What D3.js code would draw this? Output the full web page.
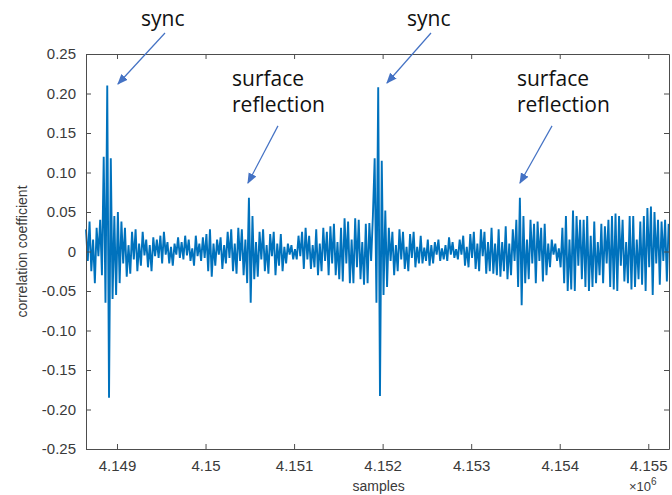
<!DOCTYPE html>
<html>
<head>
<meta charset="utf-8">
<script src="https://cdn.jsdelivr.net/npm/d3@7"></script>
<style>
  body { margin: 0; background: #fff; }
  svg { display: block; }
</style>
</head>
<body>
<div id="chart"></div>
<script>
// correlation output, one value every 20 samples
const sampleStart = 4148650;
const sampleStep = 20;
const corr = [
  0.028,-0.012,0.038,-0.025,0.015,-0.040,0.030,-0.006,0.040,-0.030,
  0.120,-0.065,0.210,-0.185,0.118,-0.060,0.045,-0.055,0.050,-0.040,
  0.038,-0.015,0.030,-0.032,0.008,-0.028,0.025,-0.010,0.028,-0.025,
  0.010,-0.018,0.025,-0.005,0.015,-0.020,0.008,-0.025,0.018,-0.006,
  0.015,-0.008,0.020,-0.015,0.025,-0.004,0.012,-0.015,0.006,-0.018,
  0.010,-0.004,0.018,-0.008,0.012,-0.010,0.020,-0.005,0.015,-0.012,
  0.004,-0.018,0.020,-0.006,0.010,-0.012,0.018,-0.008,0.022,-0.025,
  0.028,-0.032,0.010,-0.018,0.015,-0.004,0.018,-0.022,0.008,-0.015,
  0.025,-0.008,0.028,-0.025,0.010,-0.028,0.030,-0.012,0.028,-0.030,
  0.015,-0.040,0.068,-0.065,0.045,-0.035,0.012,-0.032,0.025,-0.010,
  0.028,-0.025,0.008,-0.028,0.022,-0.006,0.025,-0.030,0.010,-0.018,
  0.022,-0.025,0.006,-0.015,0.010,-0.004,0.008,-0.010,0.003,-0.010,
  0.020,-0.006,0.025,-0.022,0.030,-0.010,0.020,-0.022,0.008,-0.020,
  0.028,-0.030,0.010,-0.025,0.030,-0.012,0.025,-0.030,0.032,-0.015,
  0.035,-0.030,0.012,-0.035,0.030,-0.038,0.042,-0.015,0.038,-0.040,
  0.015,-0.040,0.042,-0.020,0.040,-0.035,0.012,-0.042,0.035,-0.040,
  0.036,-0.012,0.045,0.118,-0.065,0.208,-0.183,0.115,-0.055,0.052,
  -0.045,0.030,-0.012,0.025,-0.030,0.008,-0.025,0.028,-0.010,0.025,
  -0.022,0.006,-0.025,0.022,-0.008,0.025,-0.020,0.006,-0.015,0.020,
  -0.015,0.005,-0.012,0.015,-0.018,0.008,-0.015,0.012,-0.004,0.015,
  -0.012,0.004,-0.010,0.008,-0.012,0.018,-0.004,0.012,-0.008,0.003,
  -0.010,0.015,-0.004,0.020,-0.018,0.006,-0.020,0.022,-0.008,0.025,
  -0.022,0.010,-0.025,0.028,-0.006,0.025,-0.028,0.012,-0.025,0.030,
  -0.028,0.010,-0.030,0.028,-0.032,0.012,-0.025,0.032,-0.035,0.010,
  -0.030,0.028,-0.012,0.040,-0.045,0.068,-0.068,0.045,-0.040,0.015,
  -0.035,0.040,-0.015,0.035,-0.040,0.038,-0.012,0.030,-0.038,0.035,
  -0.030,0.010,-0.020,0.015,-0.004,0.010,-0.012,0.004,-0.020,0.030,
  -0.040,0.045,-0.050,0.015,-0.048,0.052,-0.050,0.045,-0.018,0.040,
  -0.035,0.040,-0.045,0.045,-0.050,0.020,-0.045,0.038,-0.040,0.012,
  -0.030,0.035,-0.040,0.032,-0.015,0.040,-0.045,0.045,-0.048,0.048,
  -0.050,0.045,-0.018,0.040,-0.038,0.012,-0.040,0.045,-0.048,0.045,
  -0.045,0.015,-0.035,0.038,-0.042,0.045,-0.050,0.055,-0.020,0.057,
  -0.055,0.050,-0.015,0.040,-0.042,0.038,-0.012,0.040,-0.038,0.035
];

const xTicks = [4149000, 4150000, 4151000, 4152000, 4153000, 4154000, 4155000];
const xTickLabels = ["4.149", "4.15", "4.151", "4.152", "4.153", "4.154", "4.155"];
const yTicks = [0.25, 0.20, 0.15, 0.10, 0.05, 0, -0.05, -0.10, -0.15, -0.20, -0.25];
const yTickLabels = ["0.25", "0.20", "0.15", "0.10", "0.05", "0", "-0.05", "-0.10", "-0.15", "-0.20", "-0.25"];

// annotations: label lines, arrow tail and head in data units
const notes = [
  { lines: ["sync"], sample: 4149271, value: 0.286, tail: [4149542, 0.2766], head: [4149011, 0.212] },
  { lines: ["surface", "reflection"], sample: 4150299, value: 0.209, tail: [4150818, 0.159], head: [4150479, 0.0867] },
  { lines: ["sync"], sample: 4152275, value: 0.286, tail: [4152546, 0.2766], head: [4152049, 0.2133] },
  { lines: ["surface", "reflection"], sample: 4153517, value: 0.209, tail: [4153913, 0.159], head: [4153551, 0.0867] }
];

const width = 672, height = 495;
const margin = { top: 54, right: 3, bottom: 46, left: 86 };

const svg = d3.select("#chart").append("svg")
  .attr("width", width)
  .attr("height", height);

const x = d3.scaleLinear()
  .domain([4148650, 4155234])
  .range([margin.left, width - margin.right]);

const y = d3.scaleLinear()
  .domain([-0.25, 0.25])
  .range([height - margin.bottom, margin.top]);

const axisColor = "#4d4d4d";
const tickFont = "'Liberation Sans', Arial, sans-serif";

// signal
const line = d3.line()
  .x((d, i) => x(sampleStart + i * sampleStep))
  .y(d => y(d));

svg.append("path")
  .datum(corr)
  .attr("fill", "none")
  .attr("stroke", "#0072BD")
  .attr("stroke-width", 1.9)
  .attr("stroke-linejoin", "bevel")
  .attr("d", line);

// axes (MATLAB style ticks pointing inward, box around)
svg.append("g")
  .attr("transform", `translate(0,${y(-0.25)})`)
  .call(d3.axisBottom(x).tickValues(xTicks).tickSizeInner(-5).tickSizeOuter(0)
    .tickFormat((d, i) => xTickLabels[i]).tickPadding(11));

svg.append("g")
  .attr("transform", `translate(${x.range()[0]},0)`)
  .call(d3.axisLeft(y).tickValues(yTicks).tickSizeInner(-5).tickSizeOuter(0)
    .tickFormat((d, i) => yTickLabels[i]).tickPadding(10));

svg.append("g")
  .attr("transform", `translate(0,${y(0.25)})`)
  .call(d3.axisTop(x).tickValues(xTicks).tickSizeInner(-5).tickSizeOuter(0).tickFormat(""));

svg.append("g")
  .attr("transform", `translate(${x.range()[1]},0)`)
  .call(d3.axisRight(y).tickValues(yTicks).tickSizeInner(-5).tickSizeOuter(0).tickFormat(""));

svg.selectAll(".domain, .tick line").attr("stroke", axisColor);
svg.selectAll(".tick text")
  .attr("fill", "#3a3a3a")
  .style("font-family", tickFont)
  .style("font-size", "15px");

// axis titles
svg.append("text")
  .attr("x", x(4152000) - 4)
  .attr("y", 491)
  .attr("text-anchor", "middle")
  .attr("fill", "#3a3a3a")
  .style("font-family", tickFont)
  .style("font-size", "14px")
  .text("samples");

svg.append("text")
  .attr("transform", `translate(27,${y(0)}) rotate(-90)`)
  .attr("text-anchor", "middle")
  .attr("fill", "#3a3a3a")
  .style("font-family", tickFont)
  .style("font-size", "14px")
  .text("correlation coefficient");

const expo = svg.append("text")
  .attr("x", 629)
  .attr("y", 491)
  .attr("fill", "#3a3a3a")
  .style("font-family", tickFont)
  .style("font-size", "13px");
expo.append("tspan").text("\u00d710");
expo.append("tspan").attr("dy", -6).style("font-size", "10px").text("6");

// annotations
svg.append("defs").append("marker")
  .attr("id", "arrow")
  .attr("viewBox", "0 0 10 10")
  .attr("refX", 9).attr("refY", 5)
  .attr("markerWidth", 9).attr("markerHeight", 9)
  .attr("orient", "auto")
  .append("path")
  .attr("d", "M0,1 L10,5 L0,9 z")
  .attr("fill", "#4472C4");

notes.forEach(n => {
  const t = svg.append("text")
    .attr("x", x(n.sample))
    .attr("y", y(n.value))
    .attr("fill", "#111")
    .style("font-family", "'Open Sans', 'Noto Sans', sans-serif")
    .style("font-size", "21px");
  n.lines.forEach((l, i) => {
    t.append("tspan").attr("x", x(n.sample)).attr("dy", i === 0 ? 0 : 26).text(l);
  });
  svg.append("line")
    .attr("x1", x(n.tail[0])).attr("y1", y(n.tail[1]))
    .attr("x2", x(n.head[0])).attr("y2", y(n.head[1]))
    .attr("stroke", "#4472C4")
    .attr("stroke-width", 1.2)
    .attr("marker-end", "url(#arrow)");
});
</script>
</body>
</html>
